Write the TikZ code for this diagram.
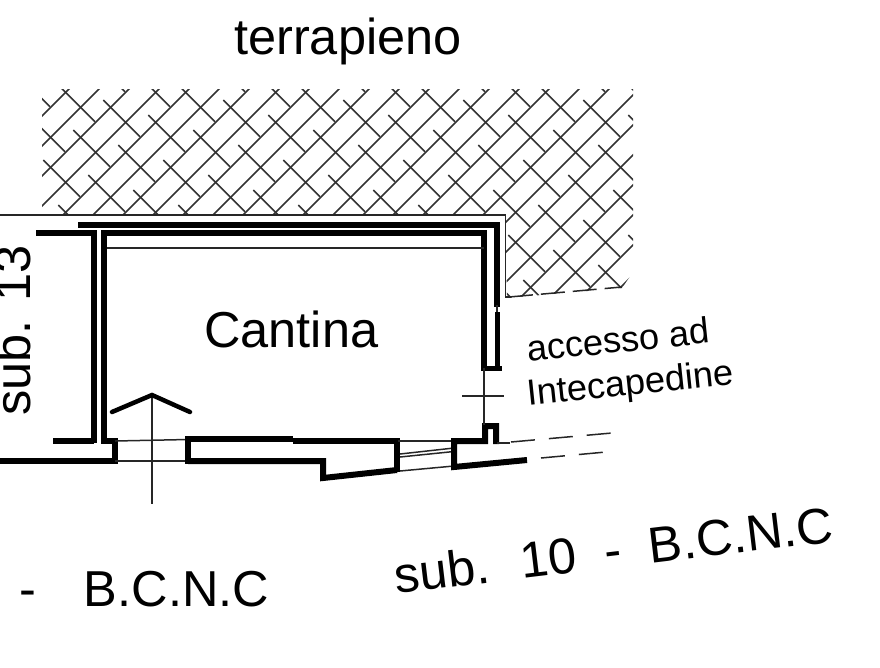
\documentclass[tikz,border=0pt]{standalone}
\usepackage{fontspec}
\setmainfont{Liberation Sans}
\newcommand{\bigfont}{\fontsize{50.5}{55}\selectfont}
\newcommand{\smallfont}{\fontsize{36.3}{40}\selectfont}
\tikzset{
  thickwall/.style={line width=6pt,line cap=butt,line join=miter,black},
  midwall/.style={line width=4.5pt,line join=miter,black},
  thinline/.style={line width=1.5pt,black!85},
  hatchline/.style={line width=1.5pt,black!80},
  dashline/.style={line width=1.5pt,dash pattern=on 24pt off 14pt,black!85},
  label/.style={inner sep=0pt,anchor=base west},
}
\begin{document}
\begin{tikzpicture}[x=1pt,y=-1pt]
\useasboundingbox (0,0) rectangle (880,667);
% hatching
\begin{scope}
\clip (42,89) -- (633,89) -- (633,272) -- (622,288) -- (507,298) -- (505,215) -- (42,215) -- cycle;
\foreach \k in {0,...,45}{
  \pgfmathsetmacro{\c}{158+30*\k}
  \draw[hatchline] (\c-300,300) -- (\c,0);
}
\foreach \i in {-12,...,16}{
  \foreach \j in {-8,...,16}{
    \pgfmathsetmacro{\sx}{103.3+45*\i-30*\j}
    \pgfmathsetmacro{\sy}{100+15*\i+30*\j}
    \draw[hatchline] (\sx,\sy) -- ++(36.7,36.7);
  }
}
\end{scope}
\draw[thinline,dash pattern=on 24pt off 8pt] (509,297) -- (622,287);
% outer boundary
\draw[thinline] (0,215) -- (505.5,215) -- (505.5,297) -- (511,297);
% walls
\draw[thickwall] (78,225) -- (497,225) -- (497,307);
\draw[thickwall] (36,233) -- (94,233) -- (94,443);
\draw[thickwall] (53,441) -- (94,441);
\draw[thickwall] (484,233) -- (104,233) -- (104,441) -- (115,441) -- (115,464);
\draw[thickwall] (484,230) -- (484,371);
\draw[thinline] (497,305) -- (497,314);
\draw[thickwall,line width=5pt] (497,312) -- (497,368);
\draw[thickwall,line width=5pt] (481,368) -- (502,368);
\draw[thinline] (107,248) -- (484,248);
\draw[thickwall] (0,461) -- (115,461);
% door
\draw[thinline] (115,441) -- (188,439.5);
\draw[thinline] (115,461) -- (188,461);
\draw[thickwall] (188,436) -- (188,464);
\draw[thickwall] (188,439) -- (293,439);
\draw[thickwall] (293,441) -- (397,441) -- (397,472);
\draw[thickwall] (188,461) -- (323,461) -- (323,478) -- (397,470);
% window
\draw[thinline] (398,441) -- (454,441);
\draw[thinline] (400,457) -- (454,451.5);
\draw[thinline] (400,454) -- (454,448);
\draw[thinline] (400,471) -- (454,466);
% right corner
\draw[thickwall] (496,444) -- (496,426) -- (485,426) -- (485,441) -- (454,441) -- (454,467) -- (527,460);
\draw[thinline] (497,443) -- (510,443);
\draw[dashline] (511,442) -- (612,433);
\draw[dashline] (541,458) -- (606,452);
% axes and marks
\draw[thinline] (484,368) -- (484,425);
\draw[thinline] (462,396) -- (504,396);
\draw[thinline] (152,394) -- (152,504);
\draw[midwall,line cap=round] (112,412) -- (152,395) -- (190,412);
% text
\node[label] (t1) at (234,54) {\bigfont terrapieno};
\node[label] (t2) at (204,347) {\bigfont Cantina};
\node[label,rotate=90] (t3) at (30,416) {\bigfont sub. 13};
\node[label] (t4) at (19,606) {\bigfont -\hspace{48pt}B.C.N.C};
\node[label,rotate=6.8] (t5) at (396,594) {\bigfont sub.\ \ \hspace{4pt}10\ \ -\ \ B.C.N.C};
\node[label,rotate=6] (t6) at (528,362) {\smallfont accesso ad};
\node[label,rotate=6] (t7) at (528,406) {\smallfont Intecapedine};
\end{tikzpicture}
\end{document}
